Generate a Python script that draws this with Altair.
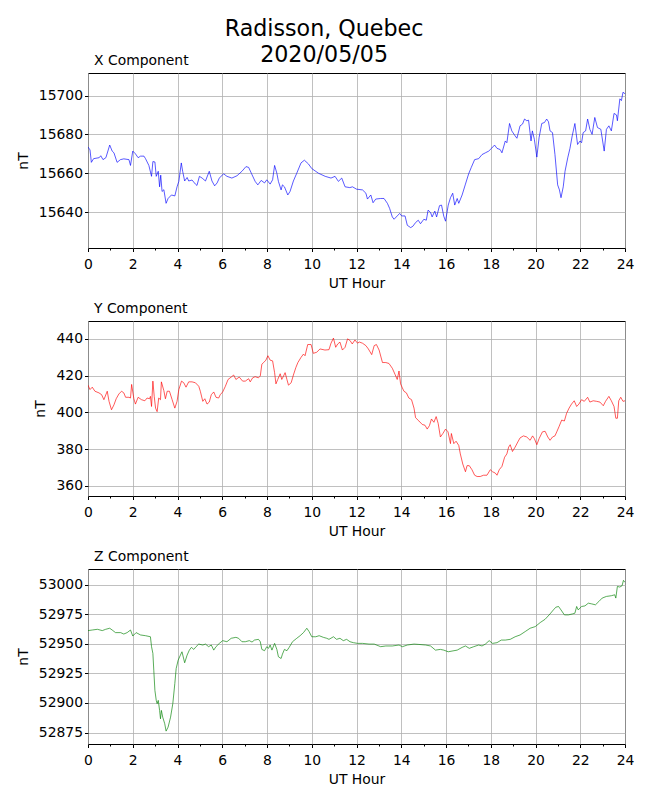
import altair as alt
import pandas as pd

# ---------------- data: (UT hour, nT) ----------------
x_points = [(0, 15673.5), (0.09, 15672), (0.15, 15665.6), (0.25, 15667.5), (0.5, 15668), (0.57, 15669),
            (0.67, 15667), (0.8, 15668), (0.97, 15674.5), (1.08, 15671.4), (1.16, 15670.5), (1.3, 15665.6),
            (1.45, 15667), (1.6, 15667.4), (1.83, 15667), (1.9, 15664), (2.0, 15671.4), (2.12, 15670),
            (2.24, 15668), (2.35, 15668.8), (2.5, 15668.8), (2.57, 15667.5), (2.72, 15664), (2.84, 15658.4),
            (2.9, 15666), (2.99, 15665.8), (3.05, 15658.4), (3.14, 15661), (3.2, 15653), (3.25, 15659),
            (3.31, 15650.6), (3.39, 15651.5), (3.49, 15644.5), (3.58, 15647), (3.73, 15648.8), (3.88, 15648.3),
            (3.98, 15653), (4.06, 15655.8), (4.17, 15665.3), (4.23, 15661), (4.32, 15656), (4.43, 15657.8),
            (4.5, 15656), (4.65, 15656.5), (4.8, 15654.4), (4.87, 15653.7), (4.98, 15658.4), (5.1, 15657.5),
            (5.25, 15656), (5.42, 15661), (5.54, 15656), (5.66, 15653.5), (5.77, 15655), (5.87, 15657.5),
            (6.06, 15659.7), (6.21, 15658.4), (6.43, 15657.5), (6.66, 15658.7), (6.88, 15661), (7.06, 15663.4),
            (7.18, 15663), (7.3, 15660), (7.47, 15655.8), (7.59, 15654), (7.74, 15656.3), (7.89, 15655),
            (7.99, 15656.6), (8.14, 15654.4), (8.25, 15656.6), (8.34, 15664), (8.44, 15660), (8.51, 15655.8),
            (8.63, 15651.4), (8.69, 15654), (8.78, 15653), (8.93, 15648.8), (9.03, 15650.6), (9.18, 15656),
            (9.33, 15660), (9.52, 15665.3), (9.67, 15666.7), (9.85, 15664.8), (10.0, 15662.4), (10.3, 15660),
            (10.6, 15658.4), (10.86, 15657.5), (11.04, 15658.4), (11.19, 15655.8), (11.34, 15657.5),
            (11.49, 15653), (11.7, 15652.6), (11.82, 15653), (12.0, 15651.8), (12.27, 15651.4), (12.42, 15649.7),
            (12.49, 15646.7), (12.64, 15648.8), (12.74, 15644.8), (12.86, 15646.7), (13.08, 15647),
            (13.23, 15647), (13.38, 15644.5), (13.48, 15641.9), (13.6, 15637.5), (13.68, 15636.3), (13.82, 15638),
            (13.93, 15639.3), (14.02, 15638), (14.17, 15638), (14.27, 15633.2), (14.42, 15632), (14.52, 15632.7),
            (14.64, 15634.6), (14.76, 15635.8), (14.86, 15634), (15.01, 15636.3), (15.12, 15635.8), (15.2, 15641),
            (15.31, 15639.8), (15.38, 15637.5), (15.5, 15640.5), (15.58, 15637.5), (15.71, 15643.3),
            (15.8, 15643.6), (15.9, 15637.9), (15.98, 15635.3), (16.1, 15643.6), (16.2, 15647.4), (16.3, 15649.7),
            (16.39, 15643.6), (16.5, 15647), (16.57, 15644.5), (16.72, 15648.8), (16.87, 15654.4),
            (17.01, 15659.6), (17.13, 15663), (17.28, 15667), (17.46, 15667.5), (17.61, 15669.6),
            (17.76, 15670.5), (17.91, 15671.4), (18.05, 15673), (18.17, 15674.5), (18.28, 15672.8),
            (18.42, 15672.2), (18.5, 15670.5), (18.65, 15676.6), (18.72, 15675.7), (18.84, 15685.6),
            (18.94, 15681.8), (19.09, 15679.2), (19.17, 15678), (19.31, 15684.4), (19.42, 15685.3),
            (19.51, 15687.9), (19.61, 15687), (19.69, 15687.3), (19.8, 15676.6), (19.86, 15681.8),
            (19.95, 15677.4), (20.06, 15668.3), (20.16, 15678.3), (20.28, 15685.6), (20.4, 15686.1),
            (20.5, 15687.9), (20.58, 15686.5), (20.65, 15681.8), (20.76, 15680.9), (20.87, 15669.6),
            (20.99, 15654), (21.07, 15651.4), (21.14, 15647.4), (21.24, 15653), (21.32, 15661), (21.44, 15667.9),
            (21.54, 15672.8), (21.64, 15679.2), (21.76, 15685.6), (21.88, 15674.8), (21.99, 15676.6),
            (22.06, 15675.7), (22.13, 15680.9), (22.24, 15681.8), (22.33, 15687.9), (22.43, 15682.6),
            (22.53, 15680), (22.65, 15688.7), (22.77, 15683.5), (22.92, 15682.6), (23.07, 15671.4),
            (23.17, 15682.6), (23.28, 15684.4), (23.39, 15681.8), (23.51, 15690.8), (23.62, 15690), (23.66, 15687),
            (23.77, 15698.3), (23.84, 15697.4), (23.91, 15701.7), (24.0, 15700.9)]

y_points = [(0, 414.8), (0.09, 412.4), (0.19, 413.7), (0.31, 411.5), (0.49, 410.6), (0.61, 409.6), (0.71, 406.9),
            (0.86, 411.5), (0.94, 406), (1.05, 401.4), (1.16, 404.1), (1.26, 407.4), (1.38, 410), (1.5, 411.5),
            (1.6, 410.6), (1.68, 408.2), (1.83, 408.2), (1.9, 407.8), (1.95, 415.2), (2.05, 407.4), (2.12, 404.5),
            (2.24, 408.2), (2.39, 406.9), (2.54, 406.3), (2.64, 407.8), (2.75, 407.4), (2.79, 408.7),
            (2.84, 403.2), (2.9, 417), (2.96, 408.7), (3.02, 402.3), (3.09, 400.4), (3.16, 407.8), (3.24, 406.9),
            (3.28, 416.6), (3.39, 411.8), (3.46, 407.4), (3.54, 411.5), (3.64, 411.5), (3.76, 406.9),
            (3.88, 402.3), (3.98, 406), (4.06, 412.4), (4.18, 417), (4.28, 416.1), (4.38, 413.7), (4.5, 416.6),
            (4.65, 416.6), (4.8, 416.1), (4.95, 414.2), (5.02, 411.5), (5.13, 406), (5.22, 407.4), (5.32, 404.5),
            (5.42, 405.6), (5.51, 409.6), (5.62, 411.1), (5.72, 408.2), (5.84, 407.8), (5.91, 409.6),
            (6.02, 411.1), (6.14, 414.2), (6.26, 417.9), (6.4, 419.2), (6.51, 420.3), (6.61, 417.9), (6.76, 419.2),
            (6.91, 417), (7.03, 417), (7.18, 418.3), (7.25, 416.6), (7.36, 418.8), (7.47, 419.4), (7.62, 418.8),
            (7.7, 419.8), (7.77, 426.2), (7.85, 427.1), (7.95, 428.4), (8.04, 430.8), (8.14, 428.4), (8.25, 428),
            (8.34, 421.6), (8.4, 415.5), (8.48, 417.9), (8.59, 421), (8.66, 417.9), (8.74, 419.8), (8.81, 421.6),
            (8.89, 417.9), (8.96, 414.8), (9.08, 416.1), (9.18, 420.3), (9.29, 424.4), (9.38, 427.1),
            (9.52, 429.9), (9.63, 431.7), (9.7, 430.8), (9.82, 436.9), (9.97, 436.9), (10.07, 432.1),
            (10.22, 432.7), (10.37, 434.5), (10.59, 433.9), (10.77, 434.1), (10.86, 437.6), (10.97, 440.4),
            (11.07, 435.4), (11.16, 437.2), (11.26, 438.2), (11.37, 433.9), (11.49, 435.4), (11.6, 440),
            (11.71, 439.1), (11.81, 437.2), (11.93, 439.4), (12.05, 437.6), (12.12, 438.3), (12.27, 437.6),
            (12.42, 436.3), (12.53, 434.5), (12.68, 431.4), (12.79, 436.3), (12.89, 436.9), (13.01, 433.9),
            (13.16, 427.1), (13.31, 427.1), (13.45, 426.6), (13.6, 424), (13.72, 420.7), (13.82, 417.9),
            (13.9, 422.5), (13.97, 415.5), (14.05, 413.3), (14.12, 411.5), (14.23, 410.6), (14.34, 407.8),
            (14.46, 406.9), (14.57, 402.3), (14.64, 397.1), (14.79, 395.3), (14.94, 393.4), (15.06, 393),
            (15.16, 390.9), (15.26, 392.8), (15.35, 396.4), (15.46, 394.6), (15.56, 397.7), (15.65, 394),
            (15.75, 386.6), (15.86, 388.5), (15.98, 390.9), (16.09, 389.4), (16.2, 383), (16.24, 388.5),
            (16.35, 383), (16.45, 384.3), (16.57, 382), (16.64, 377.4), (16.75, 371.9), (16.87, 367.7),
            (16.94, 371), (17.04, 371), (17.16, 368.8), (17.28, 365.8), (17.39, 365.1), (17.53, 365.1),
            (17.68, 365.8), (17.83, 365.8), (17.98, 368.8), (18.08, 367.7), (18.2, 367), (18.28, 365.8),
            (18.38, 368.8), (18.5, 370.6), (18.62, 375.6), (18.72, 377.4), (18.8, 381.1), (18.87, 382.4),
            (18.97, 378.7), (19.09, 381.1), (19.21, 383.9), (19.31, 386.1), (19.46, 387.2), (19.61, 386.6),
            (19.76, 384.8), (19.87, 387.2), (19.95, 385.7), (20.06, 382.4), (20.16, 385.7), (20.31, 389.4),
            (20.43, 389.7), (20.55, 386.6), (20.65, 384.8), (20.76, 386.6), (20.87, 387.2), (20.95, 389.4),
            (21.05, 392.2), (21.17, 395.8), (21.29, 395.3), (21.39, 399.5), (21.5, 402.3), (21.61, 404.5),
            (21.73, 406.3), (21.84, 403.2), (21.94, 404.5), (22.06, 406.9), (22.18, 406), (22.33, 408.2),
            (22.43, 405.6), (22.58, 406.3), (22.73, 406), (22.88, 405.6), (23.03, 403.6), (23.13, 406),
            (23.28, 408.7), (23.39, 406.3), (23.51, 403.2), (23.59, 396.8), (23.66, 396.8), (23.72, 406.3),
            (23.81, 408.2), (23.91, 406), (24.0, 406.3)]

z_points = [(0, 52961.2), (0.19, 52961.7), (0.42, 52962.3), (0.64, 52961.2), (0.79, 52962.3), (0.97, 52963.2),
            (1.08, 52961.7), (1.23, 52959.5), (1.46, 52959.5), (1.6, 52958.3), (1.75, 52959.5), (1.9, 52961.7),
            (2.0, 52956.6), (2.15, 52959.5), (2.35, 52957.5), (2.57, 52956.9), (2.79, 52956), (2.84, 52947.6),
            (2.9, 52941.9), (2.94, 52927.7), (2.99, 52910.7), (3.05, 52902.2), (3.09, 52899.4), (3.14, 52902.2),
            (3.2, 52893.7), (3.24, 52886.6), (3.28, 52893.7), (3.34, 52888), (3.43, 52882.4), (3.49, 52876.2),
            (3.58, 52879.6), (3.69, 52888), (3.79, 52899.4), (3.88, 52916.4), (3.94, 52929.1), (4.03, 52936.2),
            (4.13, 52940.5), (4.2, 52943.3), (4.32, 52934), (4.43, 52940.5), (4.53, 52944.7), (4.62, 52947),
            (4.73, 52945.3), (4.83, 52947.6), (4.95, 52949.8), (5.13, 52949), (5.25, 52949.8), (5.39, 52947.6),
            (5.51, 52949), (5.62, 52944.7), (5.72, 52947.6), (5.87, 52950.4), (6.02, 52952.7), (6.21, 52951.8),
            (6.4, 52954.7), (6.61, 52955.5), (6.73, 52954.7), (6.88, 52951.8), (7.03, 52951.8), (7.21, 52952.7),
            (7.33, 52951.5), (7.44, 52953.2), (7.62, 52953.8), (7.7, 52951.8), (7.77, 52945.3), (7.89, 52944.2),
            (7.99, 52947.6), (8.07, 52946.2), (8.14, 52949), (8.22, 52944.7), (8.34, 52950.4), (8.44, 52945.3),
            (8.51, 52939.1), (8.63, 52937.6), (8.69, 52941.3), (8.78, 52945.3), (8.89, 52944.2), (8.99, 52947),
            (9.14, 52951.8), (9.33, 52954.7), (9.48, 52956.9), (9.63, 52959.5), (9.78, 52963.2), (9.88, 52960.4),
            (10.0, 52956), (10.18, 52956), (10.33, 52956.9), (10.52, 52955.5), (10.67, 52954.7), (10.77, 52953.8),
            (10.97, 52956), (11.11, 52953.8), (11.26, 52954.7), (11.41, 52952.7), (11.56, 52953.8),
            (11.71, 52951.8), (11.86, 52951), (12.05, 52950.4), (12.27, 52950.4), (12.56, 52949.8),
            (12.79, 52949.8), (13.08, 52947.6), (13.31, 52948.2), (13.6, 52948.2), (13.9, 52949), (14.05, 52947.6),
            (14.27, 52949), (14.57, 52949.8), (14.79, 52949.5), (15.09, 52949), (15.31, 52948.2), (15.53, 52944.7),
            (15.75, 52945.3), (15.9, 52944.7), (16.1, 52943.3), (16.27, 52943.9), (16.5, 52944.7), (16.72, 52947),
            (16.87, 52948.2), (17.04, 52946.2), (17.24, 52947.6), (17.46, 52949), (17.61, 52948.2),
            (17.76, 52949.8), (17.93, 52952.7), (18.08, 52950.4), (18.28, 52951), (18.47, 52953.2),
            (18.65, 52953.2), (18.87, 52953.8), (19.09, 52956), (19.31, 52957.5), (19.54, 52960.4),
            (19.76, 52963.2), (19.99, 52964.6), (20.21, 52968), (20.43, 52970.8), (20.65, 52975.3), (20.8, 52978.7),
            (20.91, 52981), (21.03, 52981.6), (21.14, 52978.7), (21.29, 52974.5), (21.47, 52974.5),
            (21.65, 52975.3), (21.76, 52975.9), (21.84, 52981.6), (21.91, 52978.7), (22.06, 52981.6),
            (22.21, 52982.1), (22.36, 52984.4), (22.51, 52983.8), (22.68, 52983), (22.83, 52985.8),
            (22.98, 52988.7), (23.17, 52990.1), (23.39, 52990.7), (23.54, 52991.5), (23.59, 52988.7),
            (23.66, 52998.6), (23.77, 52998), (23.87, 52999.2), (23.93, 53003.7), (24.0, 53002)]

x_domain = [15621.5, 15711.6]
y_domain = [354.5, 449.7]
z_domain = [52865.3, 53013.3]
x_ticks = [15640, 15660, 15680, 15700]
y_ticks = [360, 380, 400, 420, 440]
z_ticks = [52875, 52900, 52925, 52950, 52975, 53000]
hour_ticks = list(range(0, 25))

FONT = "DejaVu Sans"


def panel(points, color, title, domain, ticks):
    df = pd.DataFrame(points, columns=["hour", "value"])
    return (
        alt.Chart(df)
        .mark_line(color=color, strokeWidth=0.65, clip=True)
        .encode(
            x=alt.X(
                "hour:Q",
                scale=alt.Scale(domain=[0, 24], nice=False, zero=False),
                axis=alt.Axis(
                    values=hour_ticks,
                    title="UT Hour",
                    labelExpr="datum.value % 2 == 0 ? datum.label : ''",
                    tickSize={"condition": {"test": "datum.value % 2 == 0", "value": 3.5}, "value": 2},
                    gridOpacity={"condition": {"test": "datum.value % 2 == 0", "value": 1}, "value": 0},
                    labelFlush=False,
                    labelPadding=6,
                    titlePadding=5,
                ),
            ),
            y=alt.Y(
                "value:Q",
                scale=alt.Scale(domain=domain, nice=False, zero=False),
                axis=alt.Axis(values=ticks, title="nT", format="d", titlePadding=8),
            ),
        )
        .properties(
            width=537,
            height=175,
            title=alt.TitleParams(
                title, anchor="start", frame="group", fontSize=13.9, fontWeight="normal",
                font=FONT, dx=6, offset=5
            ),
        )
    )


chart = (
    alt.vconcat(
        panel(x_points, "blue", "X Component", x_domain, x_ticks),
        panel(y_points, "red", "Y Component", y_domain, y_ticks),
        panel(z_points, "green", "Z Component", z_domain, z_ticks),
        spacing=10,
    )
    .properties(
        title=alt.TitleParams(
            ["Radisson, Quebec", "2020/05/05"],
            fontSize=22.2,
            fontWeight="normal",
            font=FONT,
            anchor="middle",
            lineHeight=26,
            offset=-13,
            dx=-1,
        ),
        padding={"left": 7, "top": 10, "right": 5, "bottom": 5},
    )
    .configure_view(stroke="black", strokeWidth=1)
    .configure_axis(
        grid=True,
        gridColor="#b0b0b0",
        gridWidth=0.8,
        domain=False,
        tickColor="black",
        tickSize=3.5,
        labelFont=FONT,
        titleFont=FONT,
        labelFontSize=13.9,
        titleFontSize=13.9,
        labelColor="black",
        titleColor="black",
        titleFontWeight="normal",
    )
    .configure_title(color="black")
)

chart.save("out.html", embed_options={"renderer": "svg", "actions": False})
